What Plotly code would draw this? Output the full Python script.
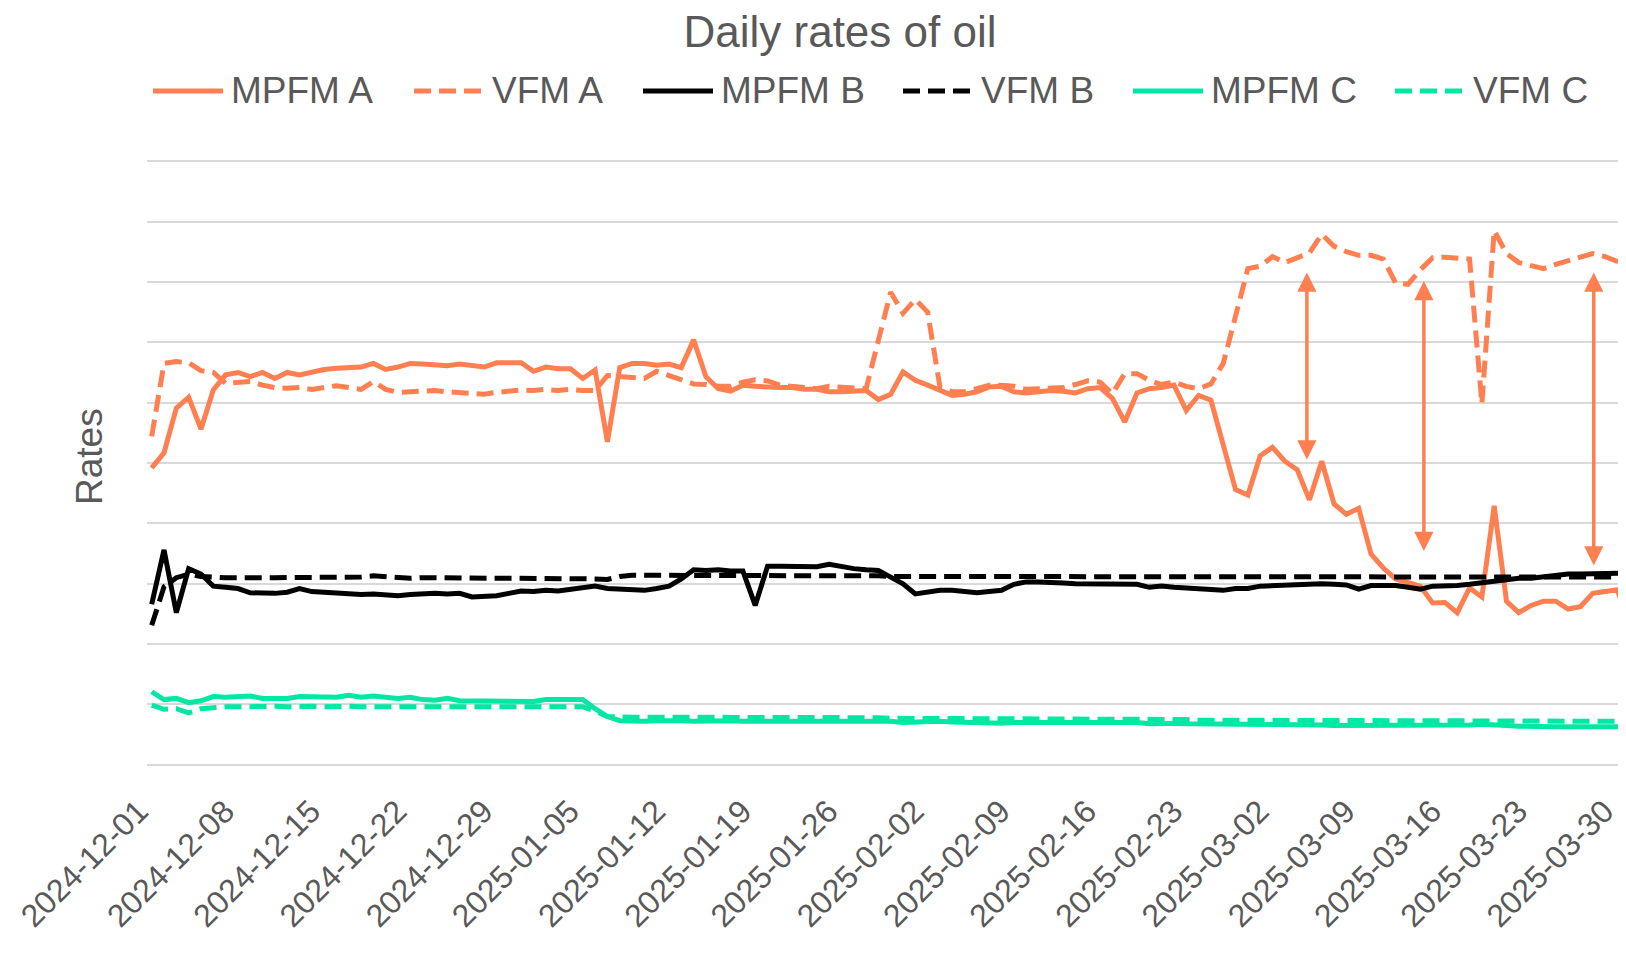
import pandas as pd
import plotly.graph_objects as go

# ---- data ----
dates = pd.date_range("2024-12-01", periods=121, freq="D")

mpfm_a = [4.92, 5.17, 5.91, 6.09, 5.56, 6.21, 6.46, 6.50, 6.43, 6.50,
          6.40, 6.50, 6.46, 6.51, 6.55, 6.57, 6.59, 6.59, 6.65, 6.55,
          6.59, 6.65, 6.64, 6.62, 6.61, 6.64, 6.61, 6.59, 6.66, 6.65,
          6.66, 6.52, 6.59, 6.56, 6.56, 6.40, 6.54, 5.35, 6.58, 6.65,
          6.65, 6.62, 6.64, 6.58, 7.04, 6.43, 6.23, 6.19, 6.29, 6.27,
          6.25, 6.25, 6.25, 6.22, 6.22, 6.18, 6.18, 6.20, 6.20, 6.05,
          6.14, 6.51, 6.37, 6.29, 6.20, 6.12, 6.14, 6.18, 6.26, 6.27,
          6.18, 6.16, 6.18, 6.20, 6.19, 6.16, 6.23, 6.25, 6.07, 5.68,
          6.16, 6.23, 6.25, 6.29, 5.87, 6.12, 6.04, 5.30, 4.56, 4.47,
          5.12, 5.26, 5.03, 4.89, 4.39, 5.03, 4.32, 4.15, 4.25, 3.49,
          3.26, 3.08, 3.03, 2.96, 2.68, 2.69, 2.52, 2.93, 2.78, 4.29,
          2.71, 2.52, 2.64, 2.71, 2.71, 2.58, 2.62, 2.84, 2.87, 2.90,
          2.30]

vfm_a = [5.44, 6.65, 6.68, 6.66, 6.53, 6.50, 6.32, 6.33, 6.35, 6.29,
         6.25, 6.24, 6.25, 6.22, 6.24, 6.28, 6.25, 6.22, 6.35, 6.22,
         6.17, 6.18, 6.18, 6.20, 6.18, 6.17, 6.15, 6.14, 6.17, 6.20,
         6.21, 6.20, 6.22, 6.20, 6.22, 6.20, 6.20, 6.45, 6.43, 6.40,
         6.40, 6.52, 6.45, 6.37, 6.31, 6.30, 6.27, 6.27, 6.34, 6.38,
         6.36, 6.29, 6.27, 6.23, 6.23, 6.27, 6.26, 6.23, 6.23, 7.03,
         7.83, 7.48, 7.71, 7.50, 6.26, 6.18, 6.18, 6.23, 6.29, 6.29,
         6.27, 6.22, 6.23, 6.25, 6.25, 6.30, 6.36, 6.34, 6.15, 6.48,
         6.48, 6.37, 6.30, 6.34, 6.27, 6.23, 6.31, 6.65, 7.45, 8.22,
         8.26, 8.42, 8.32, 8.40, 8.48, 8.79, 8.59, 8.50, 8.44, 8.44,
         8.38, 7.98, 7.96, 8.20, 8.40, 8.41, 8.39, 8.38, 5.98, 8.85,
         8.47, 8.32, 8.27, 8.22, 8.29, 8.36, 8.41, 8.47, 8.42, 8.34,
         8.30]

mpfm_b = [2.66, 3.56, 2.52, 3.25, 3.16, 2.96, 2.94, 2.92, 2.85, 2.84,
          2.84, 2.86, 2.92, 2.87, 2.86, 2.84, 2.82, 2.82, 2.83, 2.81,
          2.80, 2.82, 2.84, 2.84, 2.83, 2.84, 2.78, 2.78, 2.80, 2.84,
          2.88, 2.87, 2.89, 2.88, 2.90, 2.93, 2.96, 2.92, 2.91, 2.90,
          2.89, 2.92, 2.96, 3.08, 3.23, 3.22, 3.23, 3.21, 3.21, 2.64,
          3.29, 3.29, 3.28, 3.28, 3.28, 3.32, 3.28, 3.25, 3.23, 3.22,
          3.11, 3.00, 2.83, 2.86, 2.89, 2.89, 2.86, 2.85, 2.87, 2.89,
          2.99, 3.03, 3.03, 3.03, 3.01, 3.00, 3.00, 2.99, 2.99, 3.00,
          2.99, 2.94, 2.96, 2.94, 2.93, 2.92, 2.90, 2.89, 2.92, 2.92,
          2.96, 2.97, 2.99, 2.99, 2.99, 3.00, 2.99, 2.98, 2.91, 2.97,
          2.97, 2.97, 2.94, 2.91, 2.96, 2.96, 2.97, 2.99, 3.02, 3.05,
          3.08, 3.09, 3.09, 3.12, 3.13, 3.16, 3.16, 3.17, 3.18, 3.18,
          3.18]

vfm_b = [2.31, 2.95, 3.10, 3.16, 3.12, 3.10, 3.10, 3.10, 3.09, 3.10,
         3.10, 3.10, 3.09, 3.10, 3.10, 3.10, 3.10, 3.11, 3.13, 3.11,
         3.09, 3.09, 3.10, 3.10, 3.10, 3.09, 3.10, 3.10, 3.10, 3.10,
         3.10, 3.09, 3.08, 3.08, 3.08, 3.08, 3.08, 3.07, 3.12, 3.14,
         3.14, 3.14, 3.14, 3.15, 3.15, 3.15, 3.15, 3.15, 3.14, 3.14,
         3.14, 3.14, 3.14, 3.14, 3.14, 3.14, 3.14, 3.13, 3.13, 3.13,
         3.12, 3.12, 3.12, 3.12, 3.11, 3.11, 3.11, 3.11, 3.11, 3.11,
         3.11, 3.11, 3.11, 3.11, 3.11, 3.11, 3.11, 3.11, 3.11, 3.11,
         3.11, 3.11, 3.11, 3.11, 3.11, 3.11, 3.11, 3.10, 3.10, 3.10,
         3.10, 3.10, 3.10, 3.10, 3.10, 3.10, 3.11, 3.11, 3.11, 3.11,
         3.11, 3.11, 3.11, 3.11, 3.11, 3.11, 3.11, 3.11, 3.11, 3.11,
         3.11, 3.11, 3.11, 3.11, 3.11, 3.11, 3.11, 3.11, 3.11, 3.11,
         3.11]

mpfm_c = [1.21, 1.08, 1.10, 1.03, 1.06, 1.13, 1.12, 1.13, 1.14, 1.10,
          1.10, 1.10, 1.13, 1.13, 1.13, 1.12, 1.15, 1.12, 1.14, 1.11,
          1.10, 1.12, 1.08, 1.07, 1.10, 1.06, 1.06, 1.07, 1.07, 1.06,
          1.06, 1.05, 1.08, 1.08, 1.07, 1.08, 0.93, 0.80, 0.73, 0.72,
          0.72, 0.73, 0.74, 0.73, 0.72, 0.73, 0.74, 0.73, 0.72, 0.73,
          0.72, 0.72, 0.72, 0.73, 0.72, 0.72, 0.72, 0.71, 0.72, 0.72,
          0.72, 0.70, 0.71, 0.72, 0.72, 0.71, 0.70, 0.70, 0.70, 0.69,
          0.70, 0.70, 0.70, 0.70, 0.69, 0.70, 0.71, 0.71, 0.70, 0.69,
          0.70, 0.68, 0.69, 0.69, 0.68, 0.68, 0.68, 0.68, 0.67, 0.67,
          0.66, 0.67, 0.67, 0.66, 0.67, 0.66, 0.65, 0.65, 0.65, 0.65,
          0.66, 0.64, 0.64, 0.64, 0.64, 0.65, 0.66, 0.66, 0.67, 0.67,
          0.65, 0.64, 0.63, 0.63, 0.63, 0.63, 0.63, 0.63, 0.63, 0.63,
          0.63]

vfm_c = [0.99, 0.92, 0.93, 0.86, 0.93, 0.95, 0.96, 0.96, 0.97, 0.97,
         0.97, 0.96, 0.97, 0.97, 0.96, 0.97, 0.97, 0.96, 0.97, 0.96,
         0.96, 0.96, 0.96, 0.97, 0.96, 0.96, 0.96, 0.96, 0.96, 0.96,
         0.96, 0.96, 0.96, 0.96, 0.96, 0.96, 0.89, 0.80, 0.79, 0.79,
         0.79, 0.80, 0.79, 0.79, 0.79, 0.79, 0.79, 0.78, 0.78, 0.79,
         0.78, 0.78, 0.78, 0.78, 0.78, 0.78, 0.78, 0.78, 0.78, 0.78,
         0.77, 0.77, 0.77, 0.77, 0.77, 0.77, 0.77, 0.77, 0.77, 0.76,
         0.76, 0.76, 0.76, 0.76, 0.76, 0.76, 0.76, 0.76, 0.75, 0.75,
         0.75, 0.75, 0.75, 0.75, 0.75, 0.74, 0.74, 0.74, 0.74, 0.74,
         0.73, 0.73, 0.73, 0.73, 0.73, 0.73, 0.72, 0.72, 0.72, 0.72,
         0.72, 0.72, 0.72, 0.72, 0.72, 0.72, 0.72, 0.72, 0.72, 0.72,
         0.72, 0.72, 0.72, 0.72, 0.72, 0.72, 0.72, 0.72, 0.72, 0.72,
         0.72]

series_names = ["MPFM A", "VFM A", "MPFM B", "VFM B", "MPFM C", "VFM C"]
tick_dates = pd.date_range("2024-12-01", "2025-03-30", freq="7D")

# gap markers drawn on the chart (MPFM A vs VFM A)
arrow_dates = ["2025-03-04 19:00", "2025-03-14 07:00", "2025-03-28 02:00"]
arrow_top = [8.18, 8.04, 8.18]
arrow_bottom = [5.06, 3.54, 3.30]

# ---- style ----
CORAL = "#FF7F50"
GREEN = "#02E8A4"
BLACK = "#000000"
TEXT = "#595959"
FONT = "Liberation Sans, Arial, sans-serif"
DASH = "17px,8px"
LW = 5

# the page body keeps its default 8px margin, so the figure is sized to fit
# inside the window and positions below are given in page pixels
W, H, OFF = 1610, 941, 8
PLOT_L, PLOT_R, PLOT_T, PLOT_B = 147, 1618, 160, 766


def px_x(p):
    return (p - PLOT_L) / (PLOT_R - PLOT_L)


def px_y(p):
    return (PLOT_B - p) / (PLOT_B - PLOT_T)


values = [mpfm_a, vfm_a, mpfm_b, vfm_b, mpfm_c, vfm_c]
colors = [CORAL, CORAL, BLACK, BLACK, GREEN, GREEN]
dashes = ["solid", DASH, "solid", DASH, "solid", DASH]

fig = go.Figure()
for name, vals, col, dsh in zip(series_names, values, colors, dashes):
    fig.add_trace(go.Scatter(x=dates, y=vals, name=name, mode="lines",
                             line=dict(color=col, width=LW, dash=dsh),
                             showlegend=False))

# arrows
for d, top, bot in zip(arrow_dates, arrow_top, arrow_bottom):
    fig.add_annotation(x=d, y=bot, ax=d, ay=top, xref="x", yref="y",
                       axref="x", ayref="y", text="", showarrow=True,
                       arrowside="end+start", arrowhead=2, startarrowhead=2,
                       arrowsize=1.1, startarrowsize=1.1, arrowwidth=3.5,
                       arrowcolor=CORAL)

# legend drawn by hand to match the long line samples
legend_x = [153, 414, 643, 903, 1133, 1395]
legend_y = 91
for name, col, dsh, lx in zip(series_names, colors, dashes, legend_x):
    fig.add_shape(type="line", xref="paper", yref="paper",
                  x0=px_x(lx), x1=px_x(lx + 70), y0=px_y(legend_y), y1=px_y(legend_y),
                  line=dict(color=col, width=LW, dash=dsh))
    fig.add_annotation(x=px_x(lx + 76), y=px_y(legend_y), xref="paper", yref="paper",
                       text=name, showarrow=False, xanchor="left", yanchor="middle",
                       font=dict(size=37, color=TEXT, family=FONT))

# y axis title
fig.add_annotation(x=px_x(89), y=px_y(457), xref="paper", yref="paper",
                   text="Rates", textangle=-90, showarrow=False,
                   xanchor="center", yanchor="middle",
                   font=dict(size=37, color=TEXT, family=FONT))

fig.update_layout(
    width=W, height=H,
    margin=dict(l=PLOT_L - OFF, r=0, t=PLOT_T - OFF, b=H - (PLOT_B - OFF)),
    paper_bgcolor="white", plot_bgcolor="white",
    font=dict(family=FONT, color=TEXT),
    title=dict(text="Daily rates of oil", x=(840 - OFF) / W, xanchor="center",
               y=1 - (32 - OFF) / H, yanchor="middle", xref="container", yref="container",
               font=dict(size=44, color=TEXT, family=FONT)),
    xaxis=dict(type="date", range=["2024-11-30 14:50", "2025-03-30 01:15"],
               tickvals=tick_dates, tickformat="%Y-%m-%d", tickangle=-45,
               tickfont=dict(size=32, color=TEXT), showgrid=False,
               ticklabelshift=-13, ticklabelstandoff=19,
               ticklabeloverflow="allow", automargin=False,
               zeroline=False, showline=False, ticks=""),
    yaxis=dict(range=[-0.02, 10.02], tick0=0, dtick=1, showticklabels=False,
               showgrid=True, gridcolor="#D9D9D9", gridwidth=1.5,
               zeroline=False, showline=False, automargin=False),
)

fig.write_html("out.html")
